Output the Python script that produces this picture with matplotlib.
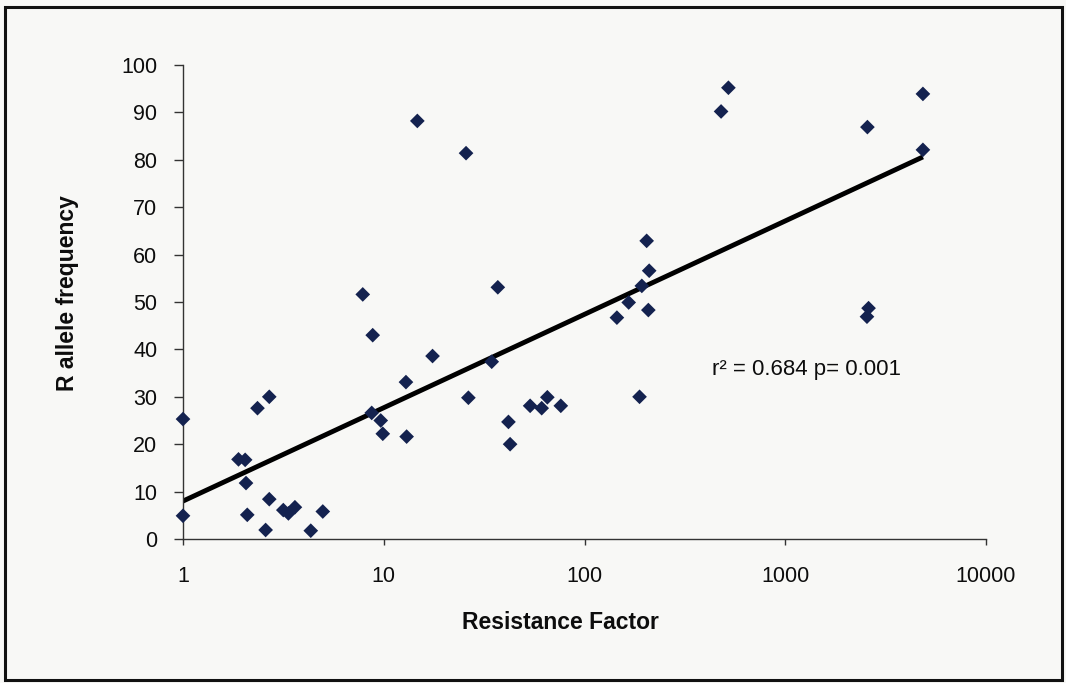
import numpy as np
import matplotlib
matplotlib.use('Agg')
import matplotlib.pyplot as plt
from matplotlib.patches import Rectangle
from matplotlib.ticker import NullLocator

plt.rcParams['font.family'] = ['Liberation Sans', 'DejaVu Sans']

# resistance factor (x) and R allele frequency (y)
resistance = [14.7, 25.7, 7.86, 8.81, 17.5, 12.9, 26.4, 1.0, 2.69, 2.35,
              8.71, 9.66, 9.89, 13.0, 1.89, 2.04, 2.06, 2.69, 1.0, 2.09,
              3.16, 3.35, 3.61, 4.97, 2.58, 4.33, 521, 479, 204, 210,
              193, 37.0, 166, 145, 208, 34.5, 188, 53.6, 61.2, 65.3,
              76.2, 41.8, 42.6, 4850, 2566, 4850, 2600, 2553]
allele_freq = [88.2, 81.4, 51.6, 43.0, 38.6, 33.1, 29.8, 25.3, 30.0, 27.6,
               26.6, 25.0, 22.2, 21.6, 16.8, 16.7, 11.8, 8.4, 4.9, 5.1,
               6.1, 5.4, 6.7, 5.8, 1.9, 1.75, 95.2, 90.2, 62.9, 56.6,
               53.4, 53.1, 49.9, 46.7, 48.3, 37.4, 30.0, 28.1, 27.6, 29.9,
               28.1, 24.7, 20.0, 93.9, 86.9, 82.1, 48.7, 46.9]

# trendline y = a + b*log10(x)
fit_intercept = 8.0
fit_slope = 19.7

x_ticks = [1, 10, 100, 1000, 10000]
x_tick_labels = ['1', '10', '100', '1000', '10000']
y_ticks = [0, 10, 20, 30, 40, 50, 60, 70, 80, 90, 100]

W, H = 1066, 683
fig = plt.figure(figsize=(W / 100, H / 100), dpi=100, facecolor='#f8f8f6')
ax = fig.add_axes([183 / W, 1 - 539 / H, 803 / W, 474 / H])
ax.set_facecolor('none')

ax.scatter(resistance, allele_freq, marker='D', s=56, color='#14224f',
           edgecolors='none', zorder=3, clip_on=False)

xs = np.array([min(resistance), max(resistance)])
ax.plot(xs, fit_intercept + fit_slope * np.log10(xs), color='black', lw=3.5,
        solid_capstyle='butt', zorder=2)

ax.text(432, 35.7, 'r² = 0.684 p= 0.001', fontsize=16, va='center', ha='left',
        color='#0d0d0d')

ax.set_xscale('log')
ax.set_xlim(1, 10000)
ax.set_ylim(0, 100)
ax.set_xticks(x_ticks)
ax.set_xticklabels(x_tick_labels)
ax.xaxis.set_minor_locator(NullLocator())
ax.set_yticks(y_ticks)

for s in ['top', 'right']:
    ax.spines[s].set_visible(False)
for s in ['left', 'bottom']:
    ax.spines[s].set_color('#333333')
    ax.spines[s].set_linewidth(1.0)

ax.tick_params(axis='y', direction='out', length=6.5, width=1, color='#333333',
               pad=12, labelsize=15.5, labelcolor='#0d0d0d')
ax.tick_params(axis='x', direction='out', length=4.5, width=1, color='#333333',
               pad=15, labelsize=15.5, labelcolor='#0d0d0d')

ax.set_xlabel('Resistance Factor', fontsize=16.5, fontweight='bold', color='#0d0d0d')
ax.xaxis.set_label_coords(0.4695, -0.152)
ax.set_ylabel('R allele frequency', fontsize=16.5, fontweight='bold', color='#0d0d0d')
ax.yaxis.set_label_coords(-0.13, 0.519)

# outer chart frame
fig.patches.append(Rectangle((5 / W, 3 / H), 1057 / W, 673 / H, transform=fig.transFigure,
                             fill=False, edgecolor='#111111', lw=2.2))

fig.savefig('out.png', dpi=100, facecolor=fig.get_facecolor())
